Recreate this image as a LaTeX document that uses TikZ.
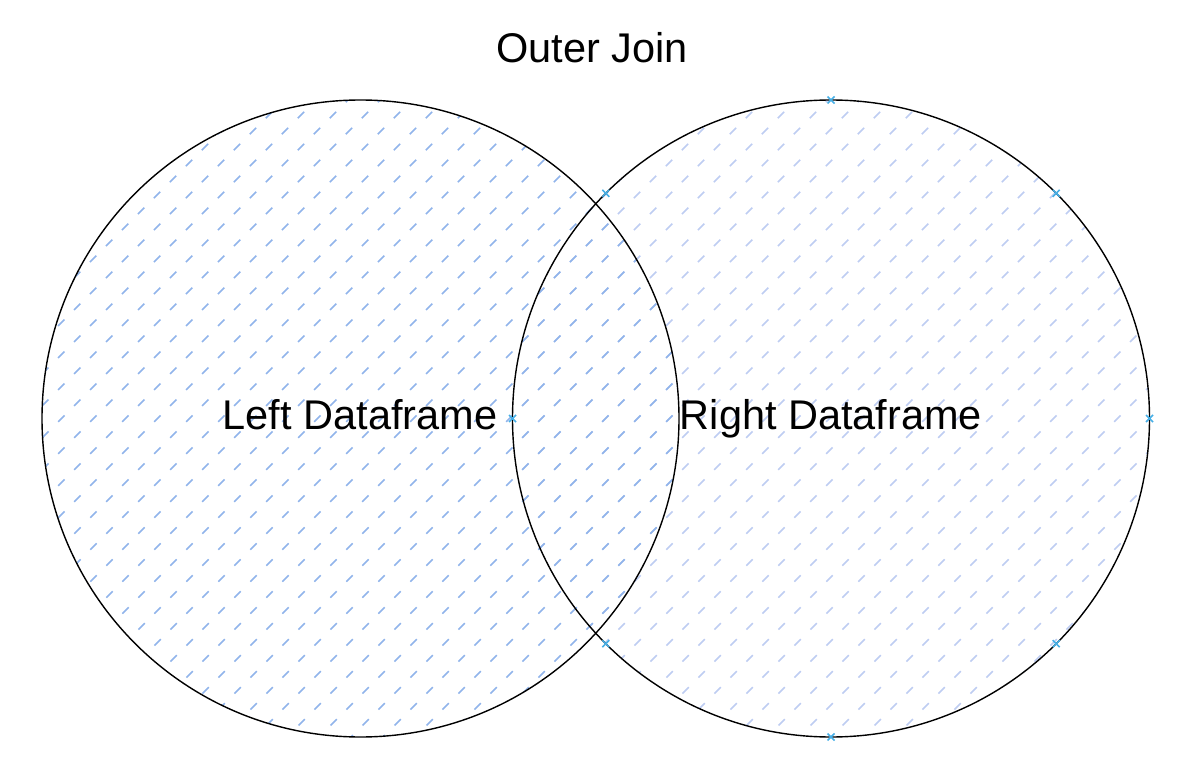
\documentclass[tikz,border=0pt]{standalone}
\usepackage{fontspec}
\setmainfont{Liberation Sans}
\definecolor{hatchL}{RGB}{145,180,235}
\definecolor{hatchR}{RGB}{190,205,242}
\definecolor{mark}{RGB}{70,175,230}
\begin{document}
\begin{tikzpicture}[x=1pt,y=-1pt,
  hatch/.style={line width=1.6pt,dash pattern=on 9pt off 13.6pt},
  ring/.style={draw=black,line width=1.4pt},
  lbl/.style={font=\fontsize{41.5}{48}\selectfont,anchor=base,inner sep=0pt},
  xmark/.style={draw=mark,line width=1.5pt}]
\useasboundingbox (0,0) rectangle (1191,762);
\coordinate (cl) at (360.5,418.5);
\coordinate (cr) at (831,418.5);
% right hatching
\begin{scope}
  \clip (cr) circle[radius=318.5];
  \foreach \k in {0,32,...,2016} \draw[hatch,hatchR] (\k,0) -- ++(-800,800);
\end{scope}
% left hatching
\begin{scope}
  \clip (cl) circle[radius=318.5];
  \foreach \k in {0,32,...,2000} \draw[hatch,hatchL] (\k,0) -- ++(-800,800);
\end{scope}
\draw[ring] (cl) circle[radius=318.5];
\draw[ring] (cr) circle[radius=318.5];
% markers on right circle
\foreach \a in {0,45,...,315} {
  \path (cr) ++(\a:318.5) coordinate (m);
  \draw[xmark] (m) ++(-3.5,-3.5) -- ++(7,7) (m) ++(-3.5,3.5) -- ++(7,-7);
}
\node[lbl] (title) at (592,63) {Outer Join};
\node[lbl] (left) at (360,429) {Left Dataframe};
\node[lbl] (right) at (831,429) {Right Dataframe};
\end{tikzpicture}
\end{document}
